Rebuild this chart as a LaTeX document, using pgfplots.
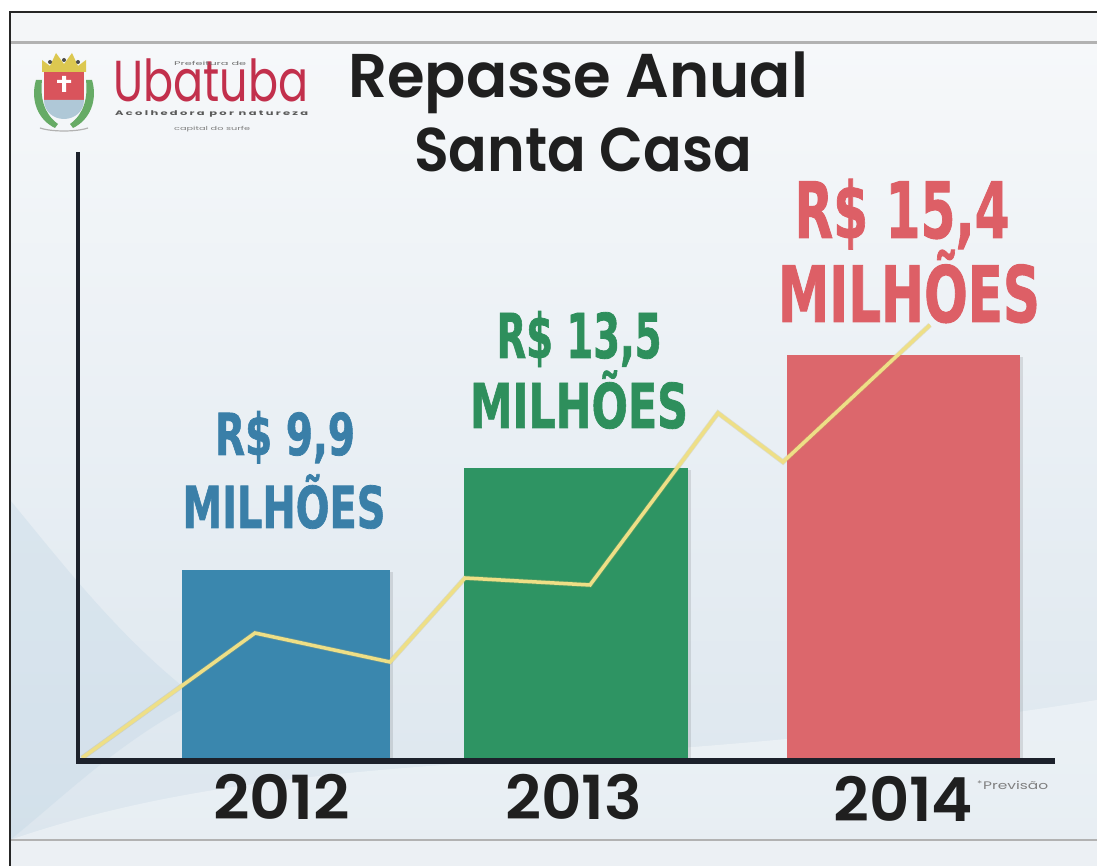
\documentclass[border=0pt]{standalone}
\usepackage{pgfplots}
\pgfplotsset{compat=1.18}
\usepackage{graphicx}
\usepackage{fontspec}
\setmainfont{Poppins}
\newfontfamily\popsemi{Poppins SemiBold}
\newfontfamily\heavy{DejaVu Sans Bold}[FakeBold=1.3]
\definecolor{barblue}{HTML}{3A87AE}
\definecolor{bargreen}{HTML}{2E9463}
\definecolor{barred}{HTML}{DC676C}
\definecolor{txtblue}{HTML}{3A7FA8}
\definecolor{txtgreen}{HTML}{2E8F5C}
\definecolor{txtred}{HTML}{DD5F66}
\definecolor{linecol}{HTML}{EEDF86}
\definecolor{axisdark}{HTML}{1C212B}
\definecolor{logored}{HTML}{C2304C}
\definecolor{bgtop}{HTML}{F6F8FA}
\definecolor{bgbot}{HTML}{DCE6EE}
\definecolor{bandtop}{HTML}{F4F6F8}
\definecolor{bandbot}{HTML}{ECF0F4}
\definecolor{wave}{HTML}{BED4E4}
\definecolor{crown}{HTML}{DCC850}
\definecolor{shieldred}{HTML}{D9545C}
\definecolor{shieldblue}{HTML}{AFC8D7}
\newcommand{\fit}[3]{{\fontsize{#2}{#2}\selectfont\resizebox{#1}{\height}{#3}}}
\begin{document}
\begin{tikzpicture}
\begin{axis}[
  scale only axis, width=1097bp, height=866bp,
  xmin=0, xmax=1097, ymin=-106, ymax=760,
  hide axis, clip=false]
% background
\fill[white] (0,-106) rectangle (1097,760);
\fill[top color=bgtop, bottom color=bgbot] (10,-80) rectangle (1097,717);
\fill[bandtop] (10,717) rectangle (1097,748);
\fill[bandbot] (10,-106) rectangle (1097,-80);
\fill[wave, opacity=0.30] (10,-80) -- (10,260) .. controls (60,200) and (120,120) .. (200,60) .. controls (120,20) and (60,-40) .. (10,-80) -- cycle;
\fill[white, opacity=0.35] (10,-80) .. controls (300,20) and (600,-20) .. (1097,60) -- (1097,-80) -- cycle;
\draw[line width=3bp, gray!60] (10,717) -- (1097,717);
\draw[line width=2bp, gray!60] (10,-80) -- (1097,-80);
\draw[line width=2.5bp, black!85] (10,-106) -- (10,748) -- (1097,748);
% bar shadows
\addplot[ybar, bar width=208, fill=black, opacity=0.10, draw=none] coordinates {(289,188)};
\addplot[ybar, bar width=224, fill=black, opacity=0.10, draw=none] coordinates {(579,290)};
\addplot[ybar, bar width=233, fill=black, opacity=0.10, draw=none] coordinates {(906.5,403)};
% bars
\addplot[ybar, bar width=208, fill=barblue, draw=none] coordinates {(286,190)};
\addplot[ybar, bar width=224, fill=bargreen, draw=none] coordinates {(576,292)};
\addplot[ybar, bar width=233, fill=barred, draw=none] coordinates {(903.5,405)};
% line
\addplot[color=linecol!80!black, line width=5bp, opacity=0.30] coordinates {(82,2) (255,127) (390,98) (465,182) (590,175) (718,347) (783,298) (930,435)};
\addplot[color=linecol, line width=3.5bp] coordinates {(82,2) (255,127) (390,98) (465,182) (590,175) (718,347) (783,298) (930,435)};
% axes
\draw[line width=4bp, axisdark] (78,608) -- (78,0);
\draw[line width=6bp, axisdark] (76,-1) -- (1055,-1);
% value labels
\node[anchor=base, inner sep=0, txtblue] at (285,305) {\fit{140bp}{58}{\heavy R\$ 9,9}};
\node[anchor=base, inner sep=0, txtblue] at (284,232) {\fit{203bp}{58}{\heavy MILHÕES}};
\node[anchor=base, inner sep=0, txtgreen] at (579,402) {\fit{165bp}{62}{\heavy R\$ 13,5}};
\node[anchor=base, inner sep=0, txtgreen] at (579,332) {\fit{218bp}{62}{\heavy MILHÕES}};
\node[anchor=base, inner sep=0, txtred] at (902,522) {\fit{215bp}{78}{\heavy R\$ 15,4}};
\node[anchor=base, inner sep=0, txtred] at (909,438) {\fit{262bp}{78}{\heavy MILHÕES}};
% years
\node[anchor=base west, inner sep=0, black!88] at (213,-60) {\fit{137bp}{61}{\popsemi 2012}};
\node[anchor=base west, inner sep=0, black!88] at (505,-60) {\fit{137bp}{61}{\popsemi 2013}};
\node[anchor=base west, inner sep=0, black!88] at (833,-62) {\fit{140bp}{61}{\popsemi 2014}};
\node[anchor=base west, inner sep=0, black!50] at (977,-30) {\fit{71bp}{11}{\textsuperscript{*}Previsão}};
% title
\node[anchor=base west, inner sep=0, black!88] at (348,662) {\fit{460bp}{62}{\popsemi Repasse Anual}};
\node[anchor=base west, inner sep=0, black!88] at (414,588) {\fit{338bp}{62}{\popsemi Santa Casa}};
% logo text
\node[anchor=base west, inner sep=0, logored] at (113,658) {\fit{195bp}{58}{Ubatuba}};
\node[anchor=base west, inner sep=0, black!55] at (174,694) {\fit{72bp}{5.5}{Prefeitura de}};
\node[anchor=base west, inner sep=0, black!65] at (115,644) {\fit{193bp}{6.5}{\addfontfeature{LetterSpace=20}\bfseries Acolhedora por natureza}};
\node[anchor=base west, inner sep=0, black!50] at (174,629) {\fit{76bp}{5.5}{capital do surfe}};
% coat of arms
\fill[green!45!black!60] (36,680) .. controls (30,660) and (38,640) .. (55,632) -- (58,636) .. controls (44,646) and (40,662) .. (42,680) -- cycle;
\fill[green!45!black!60] (92,680) .. controls (98,660) and (90,640) .. (73,632) -- (70,636) .. controls (84,646) and (88,662) .. (86,680) -- cycle;
\fill[crown] (42,688) -- (42,700) -- (50,694) -- (56,707) -- (64,696) -- (72,707) -- (78,694) -- (86,700) -- (86,688) -- cycle;
\fill[black!70] (50,698) circle[radius=2] (64,700) circle[radius=2] (78,698) circle[radius=2];
\fill[shieldred] (44,688) rectangle (84,660);
\fill[shieldblue] (44,660) -- (84,660) .. controls (84,648) and (74,641) .. (64,641) .. controls (54,641) and (44,648) .. (44,660) -- cycle;
\fill[white] (62,668) rectangle (66,684) (57,677) rectangle (71,680);
\draw[gray!60, line width=1.2bp] (40,632) .. controls (52,628) and (76,628) .. (88,632);
\end{axis}
\pgfresetboundingbox
\path[use as bounding box] (current axis.south west) rectangle (current axis.north east);
\end{tikzpicture}
\end{document}
